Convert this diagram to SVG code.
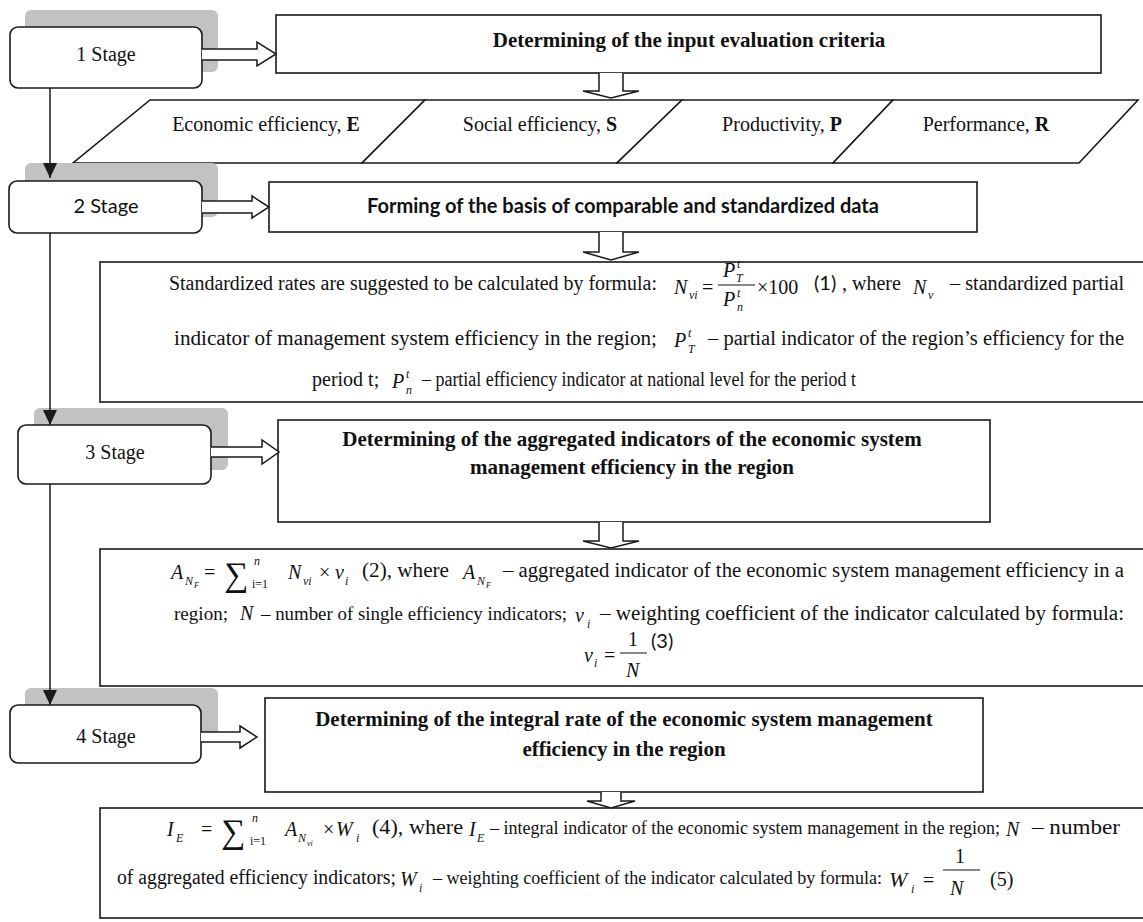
<svg xmlns="http://www.w3.org/2000/svg" width="1143" height="922" viewBox="0 0 1143 922">
<defs>
<style>
.sh{fill:#c1c2c4}
.sb{fill:#fff;stroke:#1a1a1a;stroke-width:1.6}
.bx{fill:#fff;stroke:#1a1a1a;stroke-width:1.6}
.ha{fill:#fff;stroke:#1a1a1a;stroke-width:1.5}
.ln{stroke:#1a1a1a;stroke-width:1.5;fill:none}
.fl{stroke:#111;stroke-width:1}
.t{font-family:"Liberation Serif","Times New Roman",serif;font-size:20px;fill:#111}
.b{font-weight:bold;font-size:21px}
.i{font-style:italic}
.s{font-family:Lato,"Liberation Sans",sans-serif}
.sub{font-size:12px}
.ss{font-size:8px}
.sg{font-size:34px}
</style>
<marker id="ah" markerUnits="userSpaceOnUse" markerWidth="15" markerHeight="14" refX="15" refY="7" orient="auto">
<path d="M0,0 L15,7 L0,14 z" fill="#1a1a1a"/>
</marker>
</defs>
<rect width="1143" height="922" fill="#fff"/>

<g id="stage1">
<rect class="sh" x="25" y="10" width="193" height="62" rx="6"/>
<rect class="sb" x="10" y="27" width="192" height="61" rx="8"/>
<text class="t" x="106" y="61" text-anchor="middle">1 Stage</text>
</g>
<g id="box-criteria">
<rect class="bx" x="276" y="15" width="825" height="58"/>
<text class="t b" x="689" y="47" text-anchor="middle">Determining of the input evaluation criteria</text>
</g>
<g id="criteria">
<polygon class="bx" points="150,100 425,100 362,163 73,163"/>
<polygon class="bx" points="425,100 682,100 617,163 362,163"/>
<polygon class="bx" points="682,100 893,100 833,163 617,163"/>
<polygon class="bx" points="893,100 1138,100 1079,163 833,163"/>
<text class="t" x="266" y="131" text-anchor="middle" font-size="21">Economic efficiency, <tspan font-weight="bold">E</tspan></text>
<text class="t" x="540" y="131" text-anchor="middle" font-size="21">Social efficiency, <tspan font-weight="bold">S</tspan></text>
<text class="t" x="782" y="131" text-anchor="middle" font-size="21">Productivity, <tspan font-weight="bold">P</tspan></text>
<text class="t" x="986" y="131" text-anchor="middle" font-size="21">Performance, <tspan font-weight="bold">R</tspan></text>
</g>

<g id="stage2">
<rect class="sh" x="25" y="163" width="193" height="54" rx="6"/>
<rect class="sb" x="9" y="181" width="193" height="52" rx="8"/>
<text class="t s" x="106" y="213" text-anchor="middle">2 Stage</text>
</g>
<g id="box-forming">
<rect class="bx" x="269" y="182" width="708" height="50"/>
<text class="t s" x="367" y="213" font-weight="bold" textLength="512" lengthAdjust="spacingAndGlyphs">Forming of the basis of comparable and standardized data</text>
</g>
<g id="formula1">
<rect class="bx" x="100" y="262" width="1060" height="140"/>
<text class="t" x="169" y="290" textLength="488" lengthAdjust="spacingAndGlyphs">Standardized rates are suggested to be calculated by formula:</text>
<text class="t i" x="674" y="294">N<tspan class="sub" x="689" y="299">vi</tspan></text>
<text class="t" x="702" y="294">=</text>
<text class="t i" x="723" y="277">P<tspan class="sub" x="737" y="268">t</tspan><tspan class="sub" x="736" y="282">T</tspan></text>
<line class="fl" x1="718" y1="285" x2="755" y2="285"/>
<text class="t i" x="723" y="306">P<tspan class="sub" x="737" y="297">t</tspan><tspan class="sub" x="737" y="311">n</tspan></text>
<text class="t" x="757" y="294" font-size="21">×100</text>
<text class="t s" x="814" y="290" font-size="18">(1)</text>
<text class="t" x="842" y="290">, where</text>
<text class="t i" x="913" y="294">N<tspan class="sub" x="928" y="299">v</tspan></text>
<text class="t" x="950" y="290" textLength="174" lengthAdjust="spacingAndGlyphs">– standardized partial</text>
<text class="t" x="174" y="345" textLength="483" lengthAdjust="spacingAndGlyphs">indicator of management system efficiency in the region;</text>
<text class="t i" x="674" y="347">P<tspan class="sub" x="688" y="337">t</tspan><tspan class="sub" x="688" y="353">T</tspan></text>
<text class="t" x="708" y="345" textLength="416" lengthAdjust="spacingAndGlyphs">– partial indicator of the region’s efficiency for the</text>
<text class="t" x="312" y="386">period t;</text>
<text class="t i" x="392" y="388">P<tspan class="sub" x="406" y="378">t</tspan><tspan class="sub" x="406" y="394">n</tspan></text>
<text class="t" x="422" y="386" font-size="18" textLength="434" lengthAdjust="spacingAndGlyphs">– partial efficiency indicator at national level for the period t</text>
</g>

<g id="stage3">
<rect class="sh" x="34" y="408" width="194" height="62" rx="6"/>
<rect class="sb" x="18" y="425" width="193" height="59" rx="8"/>
<text class="t" x="115" y="459" text-anchor="middle">3 Stage</text>
</g>
<g id="box-aggregated">
<rect class="bx" x="278" y="420" width="712" height="102"/>
<text class="t b" x="632" y="446" text-anchor="middle">Determining of the aggregated indicators of the economic system</text>
<text class="t b" x="632" y="474" text-anchor="middle">management efficiency in the region</text>
</g>
<g id="formula2">
<rect class="bx" x="100" y="549" width="1060" height="137"/>
<text class="t i" x="171" y="579">A<tspan class="sub" x="185" y="585">N</tspan><tspan class="ss" x="194" y="588">F</tspan></text>
<text class="t" x="204" y="579">=</text>
<text class="t sg" x="224" y="586">∑</text>
<text class="t sub" x="252" y="588">i=1<tspan class="i" x="254" y="565">n</tspan></text>
<text class="t i" x="288" y="579">N<tspan class="sub" x="303" y="585">vi</tspan></text>
<text class="t" x="319" y="579">×</text>
<text class="t i" x="335" y="579">v<tspan class="sub" x="345" y="585">i</tspan></text>
<text class="t" x="362" y="577" textLength="87" lengthAdjust="spacingAndGlyphs">(2), where</text>
<text class="t i" x="463" y="579">A<tspan class="sub" x="477" y="585">N</tspan><tspan class="ss" x="486" y="588">F</tspan></text>
<text class="t" x="503" y="577" textLength="621" lengthAdjust="spacingAndGlyphs">– aggregated indicator of the economic system management efficiency in a</text>
<text class="t" y="620"><tspan x="174" font-size="19" textLength="54" lengthAdjust="spacingAndGlyphs">region;</tspan><tspan class="i" x="240">N</tspan><tspan x="261" font-size="18.6" textLength="306" lengthAdjust="spacingAndGlyphs">– number of single efficiency indicators;</tspan><tspan class="i" x="575" y="622">v</tspan><tspan class="i sub" x="587" y="628">i</tspan><tspan x="600" y="620" textLength="524" lengthAdjust="spacingAndGlyphs">– weighting coefficient of the indicator calculated by formula:</tspan></text>
<text class="t i" x="584" y="662">v<tspan class="sub" x="594" y="667">i</tspan></text>
<text class="t" x="604" y="662">=</text>
<text class="t" x="628" y="646">1</text>
<line class="fl" x1="620" y1="653" x2="647" y2="653"/>
<text class="t i" x="626" y="677">N</text>
<text class="t s" x="651" y="648" font-size="18">(3)</text>
</g>

<g id="stage4">
<rect class="sh" x="25" y="688" width="193" height="52" rx="6"/>
<rect class="sb" x="10" y="705" width="191" height="58" rx="8"/>
<text class="t" x="106" y="743" text-anchor="middle">4 Stage</text>
</g>
<g id="box-integral">
<rect class="bx" x="265" y="698" width="718" height="94"/>
<text class="t b" x="624" y="726" text-anchor="middle">Determining of the integral rate of the economic system management</text>
<text class="t b" x="624" y="756" text-anchor="middle">efficiency in the region</text>
</g>
<g id="formula3">
<rect class="bx" x="100" y="808" width="1060" height="110"/>
<text class="t i" x="167" y="836">I<tspan class="sub" x="176" y="842">E</tspan></text>
<text class="t" x="201" y="836">=</text>
<text class="t sg" x="221" y="843">∑</text>
<text class="t sub" x="250" y="845">i=1<tspan class="i" x="252" y="822">n</tspan></text>
<text class="t i" x="285" y="836">A<tspan class="sub" x="298" y="842">N</tspan><tspan class="ss" x="307" y="846">vi</tspan></text>
<text class="t" x="323" y="836">×</text>
<text class="t i" x="336" y="836">W<tspan class="sub" x="356" y="842">i</tspan></text>
<text class="t" x="372" y="834" textLength="91" lengthAdjust="spacingAndGlyphs">(4), where</text>
<text class="t" y="836"><tspan class="i" x="469">I</tspan><tspan class="i sub" x="477" y="842">E</tspan><tspan x="490" y="834" font-size="18" textLength="510" lengthAdjust="spacingAndGlyphs">– integral indicator of the economic system management in the region;</tspan><tspan class="i" x="1006" y="836">N</tspan><tspan x="1032" y="834" textLength="88" lengthAdjust="spacingAndGlyphs">– number</tspan></text>
<text class="t" x="117" y="884" font-size="19.5" textLength="279" lengthAdjust="spacingAndGlyphs">of aggregated efficiency indicators;</text>
<text class="t i" x="400" y="886">W<tspan class="sub" x="419" y="892">i</tspan></text>
<text class="t" y="884"><tspan x="433" font-size="18" textLength="449" lengthAdjust="spacingAndGlyphs">– weighting coefficient of the indicator calculated by formula:</tspan><tspan class="i" x="889" y="887" font-size="22">W</tspan><tspan class="i sub" x="911" y="893">i</tspan><tspan x="923" y="887">=</tspan></text>
<text class="t" x="955" y="863" font-size="22">1</text>
<line class="fl" x1="943" y1="870" x2="980" y2="870"/>
<text class="t i" x="950" y="895" font-size="22">N</text>
<text class="t" x="990" y="886">(5)</text>
</g>

<g id="connectors">
<line class="ln" x1="50" y1="88" x2="50" y2="178" marker-end="url(#ah)"/>
<line class="ln" x1="50" y1="233" x2="50" y2="425" marker-end="url(#ah)"/>
<line class="ln" x1="50" y1="484" x2="50" y2="705" marker-end="url(#ah)"/>
<path class="ha" d="M202,49 H257 V42 L276,54 L257,66 V60 H202"/>
<path class="ha" d="M202,201 H252 V196 L269,207 L252,218 V213 H202"/>
<path class="ha" d="M211,447 H262 V440 L279,452 L262,464 V457 H211"/>
<path class="ha" d="M201,732 H240 V726 L257,737 L240,748 V742 H201"/>
<path class="ha" d="M599,73 V91 H583 L611,98 L639,91 H623 V73"/>
<path class="ha" d="M599,232 V252 H583 L611,260 L639,252 H623 V232"/>
<path class="ha" d="M599,522 V541 H583 L611,548 L639,541 H623 V522"/>
<path class="ha" d="M601,792 V801 H587 L611,808 L635,801 H621 V792"/>
</g>
</svg>
